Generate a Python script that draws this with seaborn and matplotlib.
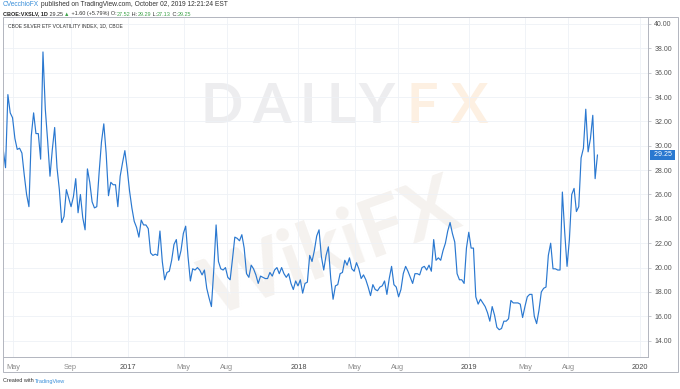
import numpy as np
import pandas as pd
import matplotlib
matplotlib.use("Agg")
import matplotlib.pyplot as plt
from matplotlib.patches import Rectangle
import seaborn as sns

# CBOE:VXSLV closes, every 5 days from 2016-04-10
start_date = "2016-04-10"
step = "5D"
vxslv_2016 = [29.7, 28.2, 34.2, 32.7, 32.3, 30.6, 29.7, 29.8, 29.4, 27.6,
              26.0, 25.0, 30.8, 32.7, 31.0, 31.0, 28.9, 37.7, 33.0, 30.4,
              27.5, 29.7, 31.5, 28.2, 26.4, 23.7, 24.2, 26.4, 25.7, 25.0,
              25.8, 27.3, 24.5, 26.0, 24.1, 23.1, 28.1, 27.0, 25.4, 24.9,
              25.0, 27.8, 30.3, 31.8, 29.4, 25.9, 27.0, 26.8, 26.8, 25.0,
              27.5, 28.6, 29.6, 28.1]
vxslv_2017 = [26.3, 24.9, 23.8, 23.3, 22.5, 23.9, 23.5, 23.5, 23.2, 21.2,
              21.0, 21.1, 21.0, 23.0, 20.5, 19.0, 19.6, 19.7, 20.6, 21.9,
              22.3, 20.6, 21.4, 22.8, 23.4, 20.9, 18.9, 19.9, 19.8, 20.0,
              19.8, 19.4, 19.8, 18.3, 17.5, 16.8, 19.8, 23.5, 20.5, 19.9,
              19.8, 20.0, 19.2, 19.0, 20.7, 22.5, 22.4, 22.2, 22.7, 21.6,
              19.5, 19.2, 20.2, 19.9, 19.4, 18.7, 19.3, 19.2, 19.1, 19.1,
              19.6, 19.3, 19.8, 20.0, 19.5, 20.0, 19.5, 19.2, 19.5, 18.7,
              18.2, 18.9, 18.5]
vxslv_2018 = [19.0, 17.9, 18.7, 18.8, 21.0, 20.5, 21.4, 22.6, 23.1, 20.9,
              19.8, 21.0, 21.7, 19.1, 17.4, 18.5, 18.6, 19.5, 19.6, 20.6,
              20.2, 20.8, 19.9, 19.7, 20.4, 19.9, 19.1, 19.4, 19.0, 18.4,
              17.7, 18.6, 18.2, 18.1, 18.4, 18.5, 18.9, 17.8, 19.1, 20.1,
              18.6, 18.4, 17.6, 18.2, 19.5, 20.1, 19.7, 19.2, 18.7, 19.5,
              19.5, 19.4, 20.0, 20.1, 19.8, 20.2, 19.7, 22.3, 20.6, 20.8,
              20.6, 21.4, 22.0, 23.0, 23.7, 22.8, 22.1, 19.5, 19.0, 19.0,
              18.7, 21.6, 22.9]
vxslv_2019 = [21.6, 21.6, 17.6, 17.0, 17.4, 17.1, 16.8, 16.3, 15.6, 16.8,
              16.1, 15.1, 14.9, 15.0, 15.6, 15.6, 15.8, 17.3, 17.1, 17.1,
              17.1, 17.0, 15.9, 16.8, 17.6, 17.8, 17.8, 16.0, 15.4, 16.5,
              18.0, 18.3, 18.4, 21.0, 22.0, 19.9, 19.9, 19.8, 19.8, 26.2,
              22.9, 20.1, 22.3, 26.0, 26.5, 24.6, 25.0, 29.0, 29.8, 33.0,
              29.5, 30.6, 32.5, 27.3, 29.25]

tick_dates = ["2016-05-01", "2016-09-01", "2017-01-01", "2017-05-01", "2017-08-01",
              "2018-01-01", "2018-05-01", "2018-08-01", "2019-01-01", "2019-05-01",
              "2019-08-01", "2020-01-01"]
tick_labels = ["May", "Sep", "2017", "May", "Aug", "2018", "May", "Aug", "2019",
               "May", "Aug", "2020"]
price_ticks = [14, 16, 18, 20, 22, 24, 26, 28, 30, 32, 34, 36, 38, 40]
last_close = 29.25

values = vxslv_2016 + vxslv_2017 + vxslv_2018 + vxslv_2019
df = pd.DataFrame({"date": pd.date_range(start_date, periods=len(values), freq=step),
                   "close": values})

sns.set_style("white")
plt.rcParams["font.family"] = ["Liberation Sans", "DejaVu Sans"]

W, H = 680, 389
fig = plt.figure(figsize=(W / 100, H / 100), dpi=100)
ax = fig.add_axes([3 / W, 1 - 357 / H, 645 / W, 340 / H])

sns.lineplot(data=df, x="date", y="close", ax=ax, color="#2a78d0", linewidth=0.85)

ax.set_xlim(pd.Timestamp("2016-04-09 14:00"), pd.Timestamp("2020-01-18"))
ax.set_ylim(12.66, 40.57)
ax.set_xlabel("")
ax.set_ylabel("")

# x axis: months and years
ax.set_xticks(pd.to_datetime(tick_dates))
ax.set_xticklabels(tick_labels)
for lab in ax.get_xticklabels():
    if lab.get_text().isdigit():
        lab.set_color("#4a4a4a")
    else:
        lab.set_color("#8c8c8c")
ax.tick_params(axis="x", length=2, width=0.5, color="#b2b5be", labelsize=5.3, pad=3)

# price scale on the right
ax.yaxis.tick_right()
ax.set_yticks(price_ticks)
ax.set_yticklabels([f"{v:.2f}" for v in price_ticks])
ax.tick_params(axis="y", length=2.5, width=0.5, color="#b2b5be", labelsize=5,
               labelcolor="#555555", pad=2)

ax.grid(True, color="#eef1f6", linewidth=0.6)
ax.set_axisbelow(True)
for side in ["top", "left"]:
    ax.spines[side].set_visible(False)
for side in ["right", "bottom"]:
    ax.spines[side].set_color("#b2b5be")
    ax.spines[side].set_linewidth(0.7)

# outer frame of the chart panel
fig.add_artist(Rectangle((3 / W, 1 - 372 / H), 675 / W, 355 / H, transform=fig.transFigure,
                         fill=False, edgecolor="#b2b5be", linewidth=0.7))

# last price tag
ax.text(1.006, last_close, f" {last_close:.2f} ", transform=ax.get_yaxis_transform(),
        ha="left", va="center", fontsize=5, color="white",
        bbox=dict(boxstyle="square,pad=0.25", facecolor="#2a78d0", edgecolor="none"),
        clip_on=False, zorder=5)

# watermarks
wm_letters = ["D", "A", "I", "L", "Y", "F", "X"]
wm_x = [222, 272, 308, 341, 376, 422, 470]
for letter, px in zip(wm_letters, wm_x):
    ax.text(px / W, 1 - 107 / H, letter, transform=fig.transFigure, ha="center", va="center",
            fontsize=40, fontweight="bold", family="Lato",
            color="#fdf0e2" if letter in "FX" else "#ededef", zorder=0)
ax.text(330 / W, 1 - 250 / H, "WikiFX", transform=fig.transFigure, ha="center", va="center",
        fontsize=58, fontweight="bold", family="Lato", rotation=20,
        color="#f5f2ef", zorder=0)

# chart title inside the pane
ax.text(8 / W, 1 - 26 / H, "CBOE SILVER ETF VOLATILITY INDEX, 1D, CBOE",
        transform=fig.transFigure, fontsize=3.6, color="#333333", va="center")


def chain(parts, x, y, size):
    text, color, weight = parts[0]
    t = fig.text(x, y, text, color=color, fontsize=size, fontweight=weight, va="center")
    for text, color, weight in parts[1:]:
        t = ax.annotate(text, xy=(1, 0.5), xycoords=t, va="center", ha="left",
                        color=color, fontsize=size, fontweight=weight)


green = "#3ea34a"
chain([("CVecchioFX", "#3a8fd9", "normal"),
       (" published on TradingView.com, October 02, 2019 12:21:24 EST", "#333333", "normal")],
      3 / W, 1 - 5 / H, 4.8)
chain([("CBOE:VXSLV, 1D", "#222222", "bold"),
       (" 29.25 ", "#333333", "normal"),
       ("▲", green, "normal"),
       (" +1.60 (+5.79%) O:", "#333333", "normal"),
       ("27.52", green, "normal"), (" H:", "#333333", "normal"),
       ("29.29", green, "normal"), (" L:", "#333333", "normal"),
       ("27.13", green, "normal"), (" C:", "#333333", "normal"),
       ("29.25", green, "normal")],
      3 / W, 1 - 14 / H, 4.0)
chain([("Created with ", "#333333", "normal"), ("TradingView", "#3a8fd9", "normal")],
      3 / W, 1 - 381 / H, 4)

fig.savefig("out.png", dpi=100)
